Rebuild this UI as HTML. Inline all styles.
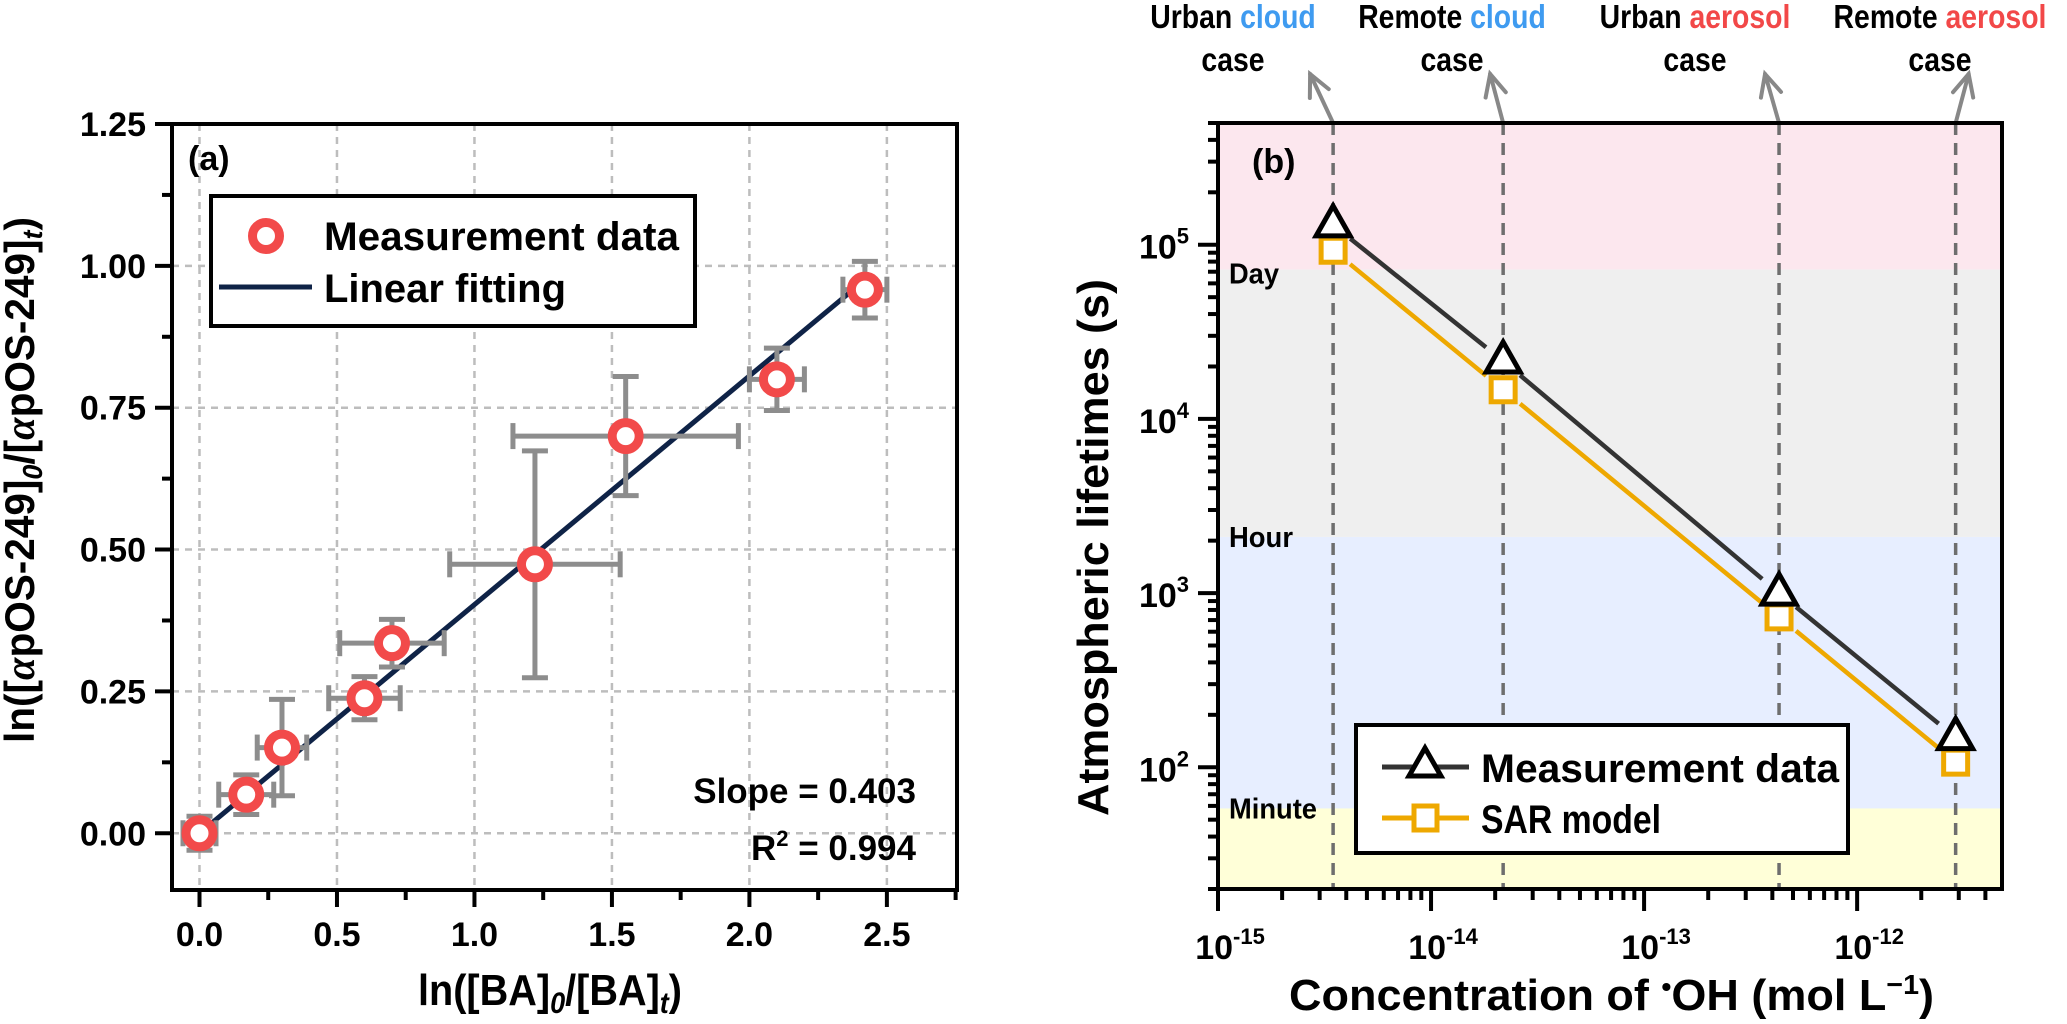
<!DOCTYPE html>
<html><head><meta charset="utf-8">
<style>
html,body{margin:0;padding:0;background:#fff;}
svg{display:block;font-family:"Liberation Sans",Arial,sans-serif;font-weight:bold;}
</style></head>
<body>
<svg id="chart" width="2067" height="1024" viewBox="0 0 2067 1024" xmlns="http://www.w3.org/2000/svg">
<g id="pa"></g>
<g id="pb"></g>
</svg>
<script>
// ---- Panel (a) data ----
const aX = [0.0, 0.17, 0.30, 0.60, 0.70, 1.22, 1.55, 2.10, 2.42];
const aY = [0.0, 0.068, 0.151, 0.238, 0.335, 0.474, 0.700, 0.800, 0.958];
const aXErr = [0.06, 0.10, 0.09, 0.13, 0.19, 0.31, 0.41, 0.10, 0.08];
const aYErr = [0.03, 0.035, 0.085, 0.038, 0.042, 0.20, 0.105, 0.055, 0.05];
const aSlope = [0.403];
const aIntercept = [0.0];
const aXTicks = [0.0, 0.5, 1.0, 1.5, 2.0, 2.5];
const aXTickLabels = ["0.0","0.5","1.0","1.5","2.0","2.5"];
const aYTicks = [0.0, 0.25, 0.5, 0.75, 1.0, 1.25];
const aYTickLabels = ["0.00","0.25","0.50","0.75","1.00","1.25"];
// ---- Panel (b) data ----
const bConc = [3.47e-15, 2.18e-14, 4.3e-13, 2.9e-12];
const bMeas = [1.3e5, 2.15e4, 1.0e3, 148];
const bSAR = [9.3e4, 1.47e4, 730, 107];
const bCases = [["Urban ","cloud"],["Remote ","cloud"],["Urban ","aerosol"],["Remote ","aerosol"]];
const bBands = [72000, 2100, 58];
const bBandNames = ["Day","Hour","Minute"];
const bXDecades = [-15, -14, -13, -12];
const bYDecades = [2, 3, 4, 5];

const NS = "http://www.w3.org/2000/svg";
function el(parent, tag, attrs, text){
  const e = document.createElementNS(NS, tag);
  for (const k in attrs) e.setAttribute(k, attrs[k]);
  if (text !== undefined) e.textContent = text;
  parent.appendChild(e);
  return e;
}
// ---- Panel (a) ----
const A = {l:172, r:957, t:124, b:890, x0:-0.1, x1:2.755, y0:-0.1, y1:1.25};
const ax = v => A.l + (v - A.x0) / (A.x1 - A.x0) * (A.r - A.l);
const ay = v => A.b - (v - A.y0) / (A.y1 - A.y0) * (A.b - A.t);
const pa = document.getElementById('pa');
aXTicks.forEach(v => {
  const g = el(pa,'line',{x1:ax(v),x2:ax(v),y1:A.t,y2:A.b,stroke:'#bdbdbd','stroke-width':2.5,'stroke-dasharray':'7 6'});
  
  
});
aYTicks.forEach(v => {
  const g = el(pa,'line',{x1:A.l,x2:A.r,y1:ay(v),y2:ay(v),stroke:'#bdbdbd','stroke-width':2.5,'stroke-dasharray':'7 6'});
  
  
});
{
  const fl = el(pa,'line',{x1:ax(0),y1:ay(aIntercept[0]),x2:ax(aX[aX.length-1]),y2:ay(aIntercept[0]+aSlope[0]*aX[aX.length-1]),stroke:'#0f2347','stroke-width':5});
  
  
}
aX.forEach((xv,i) => {
  const g = el(pa,'g',{stroke:'#8d8d8d','stroke-width':5,fill:'none'});
  
  
  const cx = ax(xv), cy = ay(aY[i]);
  const xl = ax(xv - aXErr[i]), xr = ax(xv + aXErr[i]);
  const yt = ay(aY[i] + aYErr[i]), yb = ay(aY[i] - aYErr[i]);
  el(g,'line',{x1:xl,x2:xr,y1:cy,y2:cy});
  el(g,'line',{x1:xl,x2:xl,y1:cy-13,y2:cy+13});
  el(g,'line',{x1:xr,x2:xr,y1:cy-13,y2:cy+13});
  el(g,'line',{x1:cx,x2:cx,y1:yt,y2:yb});
  el(g,'line',{x1:cx-13,x2:cx+13,y1:yt,y2:yt});
  el(g,'line',{x1:cx-13,x2:cx+13,y1:yb,y2:yb});
});
aX.forEach((xv,i) => {
  const c = el(pa,'circle',{cx:ax(xv),cy:ay(aY[i]),r:13.5,fill:'#fff',stroke:'#f24a4a','stroke-width':9});
  
  
});
{
  const f = el(pa,'rect',{x:A.l,y:A.t,width:A.r-A.l,height:A.b-A.t,fill:'none',stroke:'#000','stroke-width':4});
  
  
}
aXTicks.forEach((v,i) => {
  el(pa,'line',{x1:ax(v),x2:ax(v),y1:A.b,y2:A.b+17,stroke:'#000','stroke-width':4});
  el(pa,'line',{x1:ax(v+0.25),x2:ax(v+0.25),y1:A.b,y2:A.b+10,stroke:'#000','stroke-width':4});
  const t = el(pa,'text',{x:ax(v),y:A.b+56,'font-size':34,'text-anchor':'middle'},aXTickLabels[i]);
  
  
});
aYTicks.forEach((v,i) => {
  el(pa,'line',{x1:A.l-17,x2:A.l,y1:ay(v),y2:ay(v),stroke:'#000','stroke-width':4});
  if (v + 0.125 < A.y1) el(pa,'line',{x1:A.l-10,x2:A.l,y1:ay(v+0.125),y2:ay(v+0.125),stroke:'#000','stroke-width':4});
  const t = el(pa,'text',{x:A.l-26,y:ay(v)+12,'font-size':34,'text-anchor':'end'},aYTickLabels[i]);
  
  
});
</script>
<script>
(function(){
  const pa = document.getElementById('pa');
  pa.insertAdjacentHTML('beforeend', `
  <text x="188" y="170" font-size="34">(a)</text>
  <g>
    <rect x="211" y="196" width="484" height="130" fill="#fff" stroke="#000" stroke-width="4"/>
    <circle cx="266" cy="236" r="13.5" fill="#fff" stroke="#f24a4a" stroke-width="9"/>
    <text x="324" y="250" font-size="40" textLength="355" lengthAdjust="spacingAndGlyphs">Measurement data</text>
    <line x1="219" y1="287" x2="312" y2="287" stroke="#0f2347" stroke-width="5"/>
    <text x="324" y="302" font-size="40" textLength="242" lengthAdjust="spacingAndGlyphs">Linear fitting</text>
  </g>
  <text x="916" y="803" font-size="35" text-anchor="end">Slope = 0.403</text>
  <text x="916" y="860" font-size="35" text-anchor="end">R<tspan dy="-14" font-size="22">2</tspan><tspan dy="14"> = 0.994</tspan></text>
  <text x="418" y="1005" font-size="44" textLength="264" lengthAdjust="spacingAndGlyphs">ln([BA]<tspan font-style="italic" font-size="30" dy="8">0</tspan><tspan dy="-8">/[BA]</tspan><tspan font-style="italic" font-size="30" dy="8">t</tspan><tspan dy="-8">)</tspan></text>
  <text transform="translate(34,743) rotate(-90)" font-size="42" textLength="526" lengthAdjust="spacingAndGlyphs">ln([<tspan font-family="Liberation Serif" font-style="italic">α</tspan>pOS-249]<tspan font-style="italic" font-size="28" dy="8">0</tspan><tspan dy="-8">/[</tspan><tspan font-family="Liberation Serif" font-style="italic">α</tspan>pOS-249]<tspan font-style="italic" font-size="28" dy="8">t</tspan><tspan dy="-8">)</tspan></text>
  `);
})();
</script>
<script>
(function(){
  const NS = "http://www.w3.org/2000/svg";
  function el(parent, tag, attrs, text){
    const e = document.createElementNS(NS, tag);
    for (const k in attrs) e.setAttribute(k, attrs[k]);
    if (text !== undefined) e.textContent = text;
    parent.appendChild(e);
    return e;
  }
  const B = {l:1218, r:2002, t:123, b:889, x0:-15, x1:-11.32, y0:Math.log10(20), y1:Math.log10(5e5)};
  const bx = v => B.l + (Math.log10(v) - B.x0) / (B.x1 - B.x0) * (B.r - B.l);
  const by = v => B.b - (Math.log10(v) - B.y0) / (B.y1 - B.y0) * (B.b - B.t);
  const pb = document.getElementById('pb');
  const bandColors = ['#fce7ee','#efefef','#e7eeff','#ffffd8'];
  const edges = [Math.pow(10,B.y1)].concat(bBands).concat([Math.pow(10,B.y0)]);
  for (let i=0;i<4;i++){
    const r = el(pb,'rect',{x:B.l,y:by(edges[i]),width:B.r-B.l,height:by(edges[i+1])-by(edges[i]),fill:bandColors[i]});
    
    
  }
  bBands.forEach((v,i) => {
    const t = el(pb,'text',{x:B.l+11,y:by(v)+(i===0?14:10),'font-size':29,textLength:(i===2?88:(i===1?64:50)),lengthAdjust:'spacingAndGlyphs'},bBandNames[i]);
    
    
  });
  bConc.forEach((c,i) => {
    const x = bx(c);
    const d = el(pb,'line',{x1:x,x2:x,y1:B.t,y2:B.b,stroke:'#6e6e6e','stroke-width':3.5,'stroke-dasharray':'12 8'});
    
    
    const tipOff = [-23,-13,-14,13][i];
    const tx = x + tipOff, ty = 74;
    const g = el(pb,'g',{stroke:'#888','stroke-width':4,fill:'none','stroke-linecap':'round'});
    
    
    el(g,'line',{x1:x,y1:B.t,x2:tx,y2:ty});
    const ang = Math.atan2(ty-B.t, tx-x);
    const L = 24, s = 0.45;
    el(g,'polyline',{points:`${tx-L*Math.cos(ang-s)},${ty-L*Math.sin(ang-s)} ${tx},${ty} ${tx-L*Math.cos(ang+s)},${ty-L*Math.sin(ang+s)}`});
  });
  const caseX = [1233, 1452, 1695, 1940];
  bCases.forEach((c,i) => {
    const t = el(pb,'text',{x:caseX[i],y:28,'font-size':33,'text-anchor':'middle',transform:`translate(${caseX[i]*0.14},0) scale(0.86,1)`});
    
    
    el(t,'tspan',{fill:'#000'},c[0]);
    el(t,'tspan',{fill:(c[1]==='cloud'?'#3f9bf0':'#f24848')},c[1]);
    const t2 = el(pb,'text',{x:caseX[i],y:71,'font-size':33,'text-anchor':'middle',transform:`translate(${caseX[i]*0.14},0) scale(0.86,1)`},'case');
    
    
  });
  function series(vals, color, name, gap){
    const g = el(pb,'g',{stroke:color,'stroke-width':4.5});
    
    
    for (let i=0;i<vals.length-1;i++){
      const x1=bx(bConc[i]), y1=by(vals[i]), x2=bx(bConc[i+1]), y2=by(vals[i+1]);
      const len=Math.hypot(x2-x1,y2-y1), ux=(x2-x1)/len, uy=(y2-y1)/len;
      el(g,'line',{x1:x1+ux*gap,y1:y1+uy*gap,x2:x2-ux*gap,y2:y2-uy*gap});
    }
  }
  series(bMeas,'#333','measurement-line',22);
  series(bSAR,'#eea800','sar-model-line',22);
  bConc.forEach((c,i) => {
    const x=bx(c), y=by(bSAR[i]);
    const s = el(pb,'rect',{x:x-12,y:y-12,width:24,height:24,fill:'#fff',stroke:'#eea800','stroke-width':5});
    
    
  });
  bConc.forEach((c,i) => {
    const x=bx(c), y=by(bMeas[i]);
    const t = el(pb,'polygon',{points:`${x},${y-19} ${x-17},${y+11} ${x+17},${y+11}`,fill:'#fff',stroke:'#000','stroke-width':5});
    
    
  });
  const f = el(pb,'rect',{x:B.l,y:B.t,width:B.r-B.l,height:B.b-B.t,fill:'none',stroke:'#000','stroke-width':4});
  
  
  for (let d=-15; d<=-12; d++){
    for (let m=1;m<=9;m++){
      const v=m*Math.pow(10,d);
      const x=bx(v);
      if (x>B.r+1) continue;
      el(pb,'line',{x1:x,x2:x,y1:B.b,y2:B.b+(m===1?22:11),stroke:'#000','stroke-width':4});
    }
  }
  bXDecades.forEach(d => {
    const x=bx(Math.pow(10,d));
    const t=el(pb,'text',{x:x+12,y:B.b+70,'font-size':34,'text-anchor':'middle'});
    
    
    el(t,'tspan',{},'10');
    el(t,'tspan',{dy:-15,'font-size':22},String(d));
  });
  for (let d=1; d<=5; d++){
    for (let m=1;m<=9;m++){
      const v=m*Math.pow(10,d);
      const y=by(v);
      if (y>B.b+1||y<B.t-1) continue;
      el(pb,'line',{x1:B.l-(m===1?20:10),x2:B.l,y1:y,y2:y,stroke:'#000','stroke-width':4});
    }
  }
  bYDecades.forEach(d => {
    const y=by(Math.pow(10,d));
    const t=el(pb,'text',{x:B.l-54,y:y+14,'font-size':34,'text-anchor':'middle'});
    
    
    el(t,'tspan',{},'10');
    el(t,'tspan',{dy:-15,'font-size':22},String(d));
  });
})();
</script>
<script>
(function(){
  const pb = document.getElementById('pb');
  pb.insertAdjacentHTML('beforeend', `
  <text x="1252" y="173" font-size="34">(b)</text>
  <g>
    <rect x="1356" y="725" width="492" height="128" fill="#fff" stroke="#000" stroke-width="4"/>
    <line x1="1382" y1="767" x2="1469" y2="767" stroke="#333" stroke-width="5"/>
    <polygon points="1425,748 1409,776 1441,776" fill="#fff" stroke="#000" stroke-width="5"/>
    <text x="1481" y="782" font-size="40" textLength="358" lengthAdjust="spacingAndGlyphs">Measurement data</text>
    <line x1="1382" y1="818" x2="1469" y2="818" stroke="#eea800" stroke-width="5"/>
    <rect x="1414" y="806" width="23" height="24" fill="#fff" stroke="#eea800" stroke-width="5"/>
    <text x="1481" y="833" font-size="40" textLength="180" lengthAdjust="spacingAndGlyphs">SAR model</text>
  </g>
  <text transform="translate(1108,816) rotate(-90)" font-size="44" textLength="537" lengthAdjust="spacingAndGlyphs">Atmospheric lifetimes (s)</text>
  <text x="1289" y="1010" font-size="44" textLength="645" lengthAdjust="spacingAndGlyphs">Concentration of <tspan dy="-14" font-size="28">•</tspan><tspan dy="14">OH (mol L</tspan><tspan dy="-16" font-size="28">−1</tspan><tspan dy="16">)</tspan></text>
  `);
})();
</script>
</body></html>
